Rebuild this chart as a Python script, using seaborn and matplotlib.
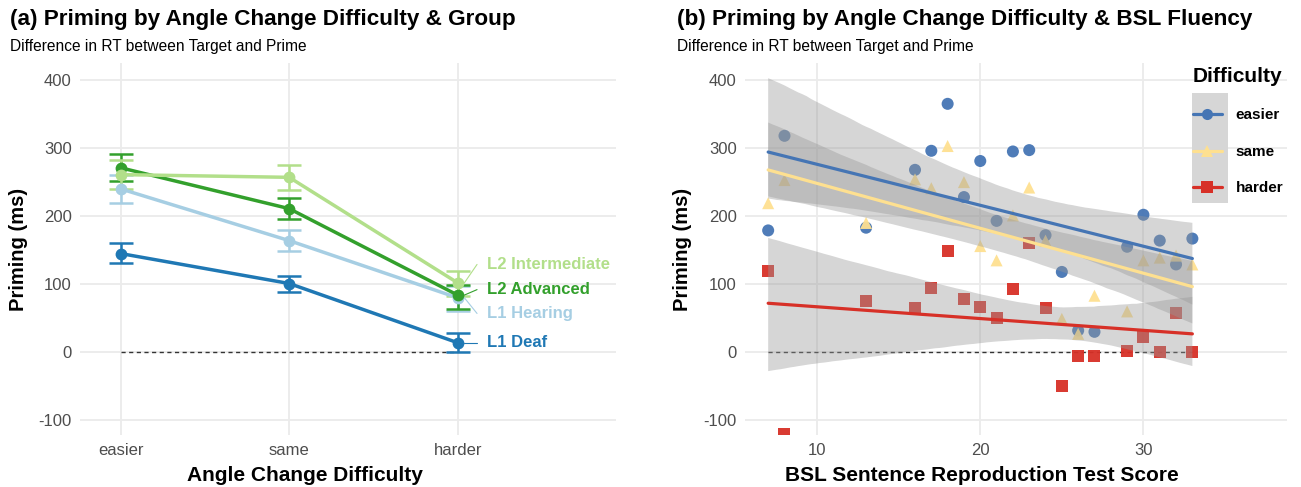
import numpy as np
import pandas as pd
import matplotlib
matplotlib.use("Agg")
import matplotlib.pyplot as plt
from matplotlib.lines import Line2D
from matplotlib.patches import Rectangle
import seaborn as sns

# ---------------- data: panel (a) ----------------
difficulty = ["easier", "same", "harder"]
groups = ["L1 Deaf", "L1 Hearing", "L2 Advanced", "L2 Intermediate"]
group_colors = ["#1f78b4", "#a6cee3", "#33a02c", "#b2df8a"]

l1_deaf_mean = [145, 101, 14]
l1_deaf_low = [131, 89, 0]
l1_deaf_high = [160, 112, 28]

l1_hearing_mean = [240, 164, 80]
l1_hearing_low = [220, 149, 61]
l1_hearing_high = [261, 179, 97]

l2_adv_mean = [271, 211, 84]
l2_adv_low = [252, 196, 64]
l2_adv_high = [291, 226, 99]

l2_int_mean = [261, 257, 102]
l2_int_low = [240, 238, 82]
l2_int_high = [282, 275, 120]

# ---------------- data: panel (b) ----------------
bsl_score = [7, 8, 13, 16, 17, 18, 19, 20, 21, 22, 23, 24, 25, 26, 27, 29, 30, 31, 32, 33]
easier_priming = [179, 318, 183, 268, 296, 365, 228, 281, 193, 295, 297, 172, 118, 32, 30, 155, 202, 164, 129, 167]
same_priming = [219, 253, 190, 254, 241, 303, 250, 156, 135, 201, 242, 164, 49, 27, 83, 60, 135, 139, 142, 129]
harder_priming = [120, -120, 75, 65, 94, 149, 78, 66, 51, 93, 160, 65, -49, -6, -5, 2, 22, 0, 58, 1]
diff_levels = ["easier", "same", "harder"]
diff_colors = {"easier": "#4575b4", "same": "#fee090", "harder": "#d73027"}
diff_markers = {"easier": "o", "same": "^", "harder": "s"}

# ---------------- style ----------------
sns.set_theme(style="whitegrid")
plt.rcParams["font.family"] = ["Liberation Sans", "DejaVu Sans"]
plt.rcParams["axes.unicode_minus"] = False
plt.rcParams["text.color"] = "black"

W, H = 1301, 487
fig = plt.figure(figsize=(W / 100, H / 100), dpi=100)
fig.patch.set_facecolor("white")


def px_axes(x0, y0, x1, y1):
    return fig.add_axes([x0 / W, 1 - y1 / H, (x1 - x0) / W, (y1 - y0) / H])


ax1 = px_axes(80, 63, 616, 435)
ax2 = px_axes(745, 63, 1287, 435)

for ax in (ax1, ax2):
    ax.set_facecolor("white")
    for s in ax.spines.values():
        s.set_visible(False)
    ax.grid(True, color="#ebebeb", lw=1.3)
    ax.tick_params(axis="both", length=0, labelsize=12, labelcolor="#4d4d4d", pad=6)
    ax.set_ylim(-121.6, 425)
    ax.set_yticks([-100, 0, 100, 200, 300, 400])
    ax.set_axisbelow(True)

# ---------------- panel (a) ----------------
means = [l1_deaf_mean, l1_hearing_mean, l2_adv_mean, l2_int_mean]
lows = [l1_deaf_low, l1_hearing_low, l2_adv_low, l2_int_low]
highs = [l1_deaf_high, l1_hearing_high, l2_adv_high, l2_int_high]
xpos = np.arange(1, len(difficulty) + 1)

rows = []
for g, m in zip(groups, means):
    for xi, v in zip(xpos, m):
        rows.append({"group": g, "x": xi, "priming": v})
dfa = pd.DataFrame(rows)

ax1.plot([xpos[0], xpos[-1]], [0, 0], ls=(0, (3, 2.5)), color="#333333", lw=1.0, zorder=2)

for g, c, m, lo, hi in zip(groups, group_colors, means, lows, highs):
    m = np.array(m); lo = np.array(lo); hi = np.array(hi)
    ax1.errorbar(xpos, m, yerr=[m - lo, hi - m], fmt="none", ecolor=c,
                 elinewidth=1.8, capsize=8.5, capthick=1.8, zorder=3)

sns.lineplot(data=dfa, x="x", y="priming", hue="group", hue_order=groups,
             palette=group_colors, marker="o", markersize=8.5, markeredgewidth=0,
             lw=2.5, legend=False, ax=ax1, zorder=4)

label_y = [14, 57, 92, 129]
label_x = 3.175
for g, c, m, ly in zip(groups, group_colors, means, label_y):
    ax1.plot([xpos[-1] + 0.04, label_x - 0.06], [m[-1], ly], color=c, lw=0.8, zorder=3)
    ax1.text(label_x, ly, g, color=c, fontsize=12, fontweight="bold", va="center", ha="left")

ax1.set_xlim(0.758, 3.94)
ax1.set_xticks(xpos)
ax1.set_xticklabels(difficulty)
ax1.set_xlabel("Angle Change Difficulty", fontsize=15, fontweight="bold", color="black")
ax1.set_ylabel("Priming (ms)", fontsize=14.5, fontweight="bold", color="black")
ax1.xaxis.set_label_coords(0.42, -0.083)
ax1.yaxis.set_label_coords(-0.097, 0.5)

# ---------------- panel (b) ----------------
n = len(bsl_score)
dfb = pd.DataFrame({
    "score": bsl_score * 3,
    "priming": easier_priming + same_priming + harder_priming,
    "difficulty": ["easier"] * n + ["same"] * n + ["harder"] * n,
})

ax2.plot([min(bsl_score), max(bsl_score)], [0, 0], ls=(0, (3, 2.5)), color="#333333", lw=1.0, zorder=2)

sns.scatterplot(data=dfb, x="score", y="priming", hue="difficulty", style="difficulty",
                hue_order=diff_levels, palette=diff_colors,
                markers=diff_markers, s=75, linewidth=0, alpha=0.95, legend=False,
                ax=ax2, zorder=2.5)

for d in diff_levels:
    sub = dfb[dfb["difficulty"] == d]
    n_coll = len(ax2.collections)
    n_lines = len(ax2.lines)
    sns.regplot(data=sub, x="score", y="priming", scatter=False, ci=95, ax=ax2,
                n_boot=4000, seed=3, color=diff_colors[d], line_kws={"lw": 2.3})
    for coll in ax2.collections[n_coll:]:
        coll.set_facecolor("#999999")
        coll.set_alpha(0.4)
        coll.set_edgecolor("none")
        coll.set_zorder(3)
    for ln in ax2.lines[n_lines:]:
        ln.set_zorder(4)

ax2.set_xlim(5.58, 38.8)
ax2.set_xticks([10, 20, 30])
ax2.set_xlabel("BSL Sentence Reproduction Test Score", fontsize=15, fontweight="bold", color="black")
ax2.set_ylabel("Priming (ms)", fontsize=14.5, fontweight="bold", color="black")
ax2.xaxis.set_label_coords(0.437, -0.083)
ax2.yaxis.set_label_coords(-0.098, 0.5)

# legend
handles = [Line2D([], [], color=diff_colors[d], marker=diff_markers[d], lw=2.3,
                  markersize=8, markeredgewidth=0) for d in diff_levels]
leg = ax2.legend(handles, diff_levels, title="Difficulty",
                 loc="upper left", bbox_to_anchor=(1185 / W, 1 - 59 / H),
                 bbox_transform=fig.transFigure, frameon=False, borderpad=0,
                 handlelength=1.9, handletextpad=0.9, labelspacing=1.48,
                 prop={"size": 11, "weight": "bold"}, alignment="left")
leg.get_title().set_fontsize(15)
leg.get_title().set_fontweight("bold")
leg.get_title().set_color("black")
for t in leg.get_texts():
    t.set_color("black")
leg.set_zorder(6)
ax2.add_patch(Rectangle((1191.5 / W, 1 - 203 / H), 36 / W, 110 / H, transform=fig.transFigure,
                        facecolor="#d6d6d6", edgecolor="none", zorder=5.5, clip_on=False))

# titles
fig.text(10 / W, 1 - 20 / H, "(a) Priming by Angle Change Difficulty & Group",
         fontsize=16.2, fontweight="bold", va="center", ha="left", color="black")
fig.text(10 / W, 1 - 47 / H, "Difference in RT between Target and Prime",
         fontsize=11.2, va="center", ha="left", color="black")
fig.text(677 / W, 1 - 20 / H, "(b) Priming by Angle Change Difficulty & BSL Fluency",
         fontsize=16.2, fontweight="bold", va="center", ha="left", color="black")
fig.text(677 / W, 1 - 47 / H, "Difference in RT between Target and Prime",
         fontsize=11.2, va="center", ha="left", color="black")

fig.savefig("out.png", dpi=100)
